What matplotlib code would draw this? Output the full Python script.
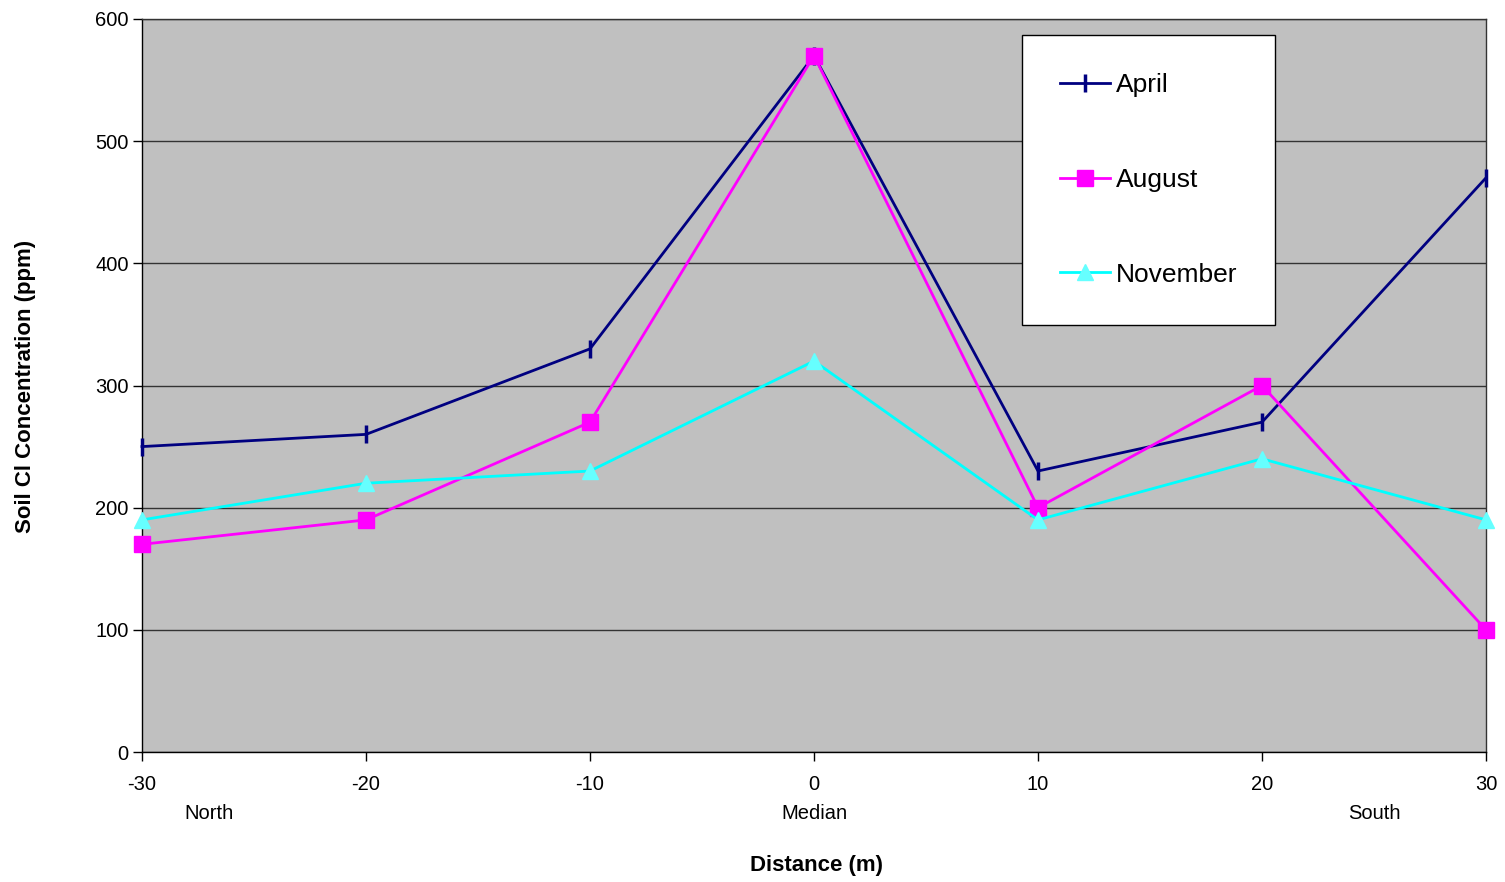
import matplotlib
matplotlib.use("Agg")
import matplotlib.pyplot as plt

plt.rcParams['font.family'] = ['Liberation Sans', 'DejaVu Sans']
plt.rcParams['axes.unicode_minus'] = False

# Distance from the median (m) and soil chloride readings (ppm)
distance = [-30, -20, -10, 0, 10, 20, 30]
april = [250, 260, 330, 570, 230, 270, 470]
august = [170, 190, 270, 570, 200, 300, 100]
november = [190, 220, 230, 320, 190, 240, 190]

side_labels = ["North", "Median", "South"]
side_pos = [-27, 0, 25]

fig = plt.figure(figsize=(15.05, 8.82), dpi=100)
ax = fig.add_axes([142 / 1505, 130 / 882, 1344 / 1505, 733 / 882])
ax.set_facecolor("#C0C0C0")

ax.plot(distance, april, color="#000080", lw=2, marker="|", ms=13, mew=2.5,
        label="April", clip_on=False, zorder=3)
ax.plot(distance, august, color="#FF00FF", lw=2, marker="s", ms=11,
        label="August", clip_on=False, zorder=3)
ax.plot(distance, november, color="#00FFFF", lw=2, marker="^", ms=11,
        mfc="#66FFFF", mec="#66FFFF", label="November", clip_on=False, zorder=3)

ax.set_xlim(-30, 30)
ax.set_ylim(0, 600)
ax.set_xticks(distance)
ax.set_yticks(range(0, 601, 100))
ax.yaxis.grid(True, color="#333333", lw=1)
ax.set_axisbelow(True)
for s in ax.spines.values():
    s.set_color("#333333")
    s.set_linewidth(1)
ax.spines["left"].set_color("black")
ax.spines["bottom"].set_color("black")
ax.tick_params(axis="both", direction="out", length=6.5, width=1, labelsize=14.5)
ax.tick_params(axis="x", pad=10)
ax.tick_params(axis="y", pad=3)

# North / Median / South sit on a second row under the distance ticks
for lab, x in zip(side_labels, side_pos):
    ax.text(x, -50, lab, ha="center", va="center", fontsize=14.5, clip_on=False)

fig.text(817 / 1505, 1 - 865 / 882, "Distance (m)", ha="center", va="center",
         fontsize=16, fontweight="bold")
fig.text(26 / 1505, 1 - 386 / 882, "Soil Cl Concentration (ppm)", ha="center",
         va="center", rotation=90, fontsize=16, fontweight="bold")

leg = ax.legend(loc="upper left", bbox_to_anchor=(1022 / 1505, 1 - 35 / 882),
                bbox_transform=fig.transFigure, fontsize=19, frameon=True,
                fancybox=False, edgecolor="black", framealpha=1,
                labelspacing=2.68, handlelength=1.9, handletextpad=0.2,
                borderpad=1.45, borderaxespad=0)
leg.get_frame().set_linewidth(1)

fig.savefig("out.png", dpi=100)
